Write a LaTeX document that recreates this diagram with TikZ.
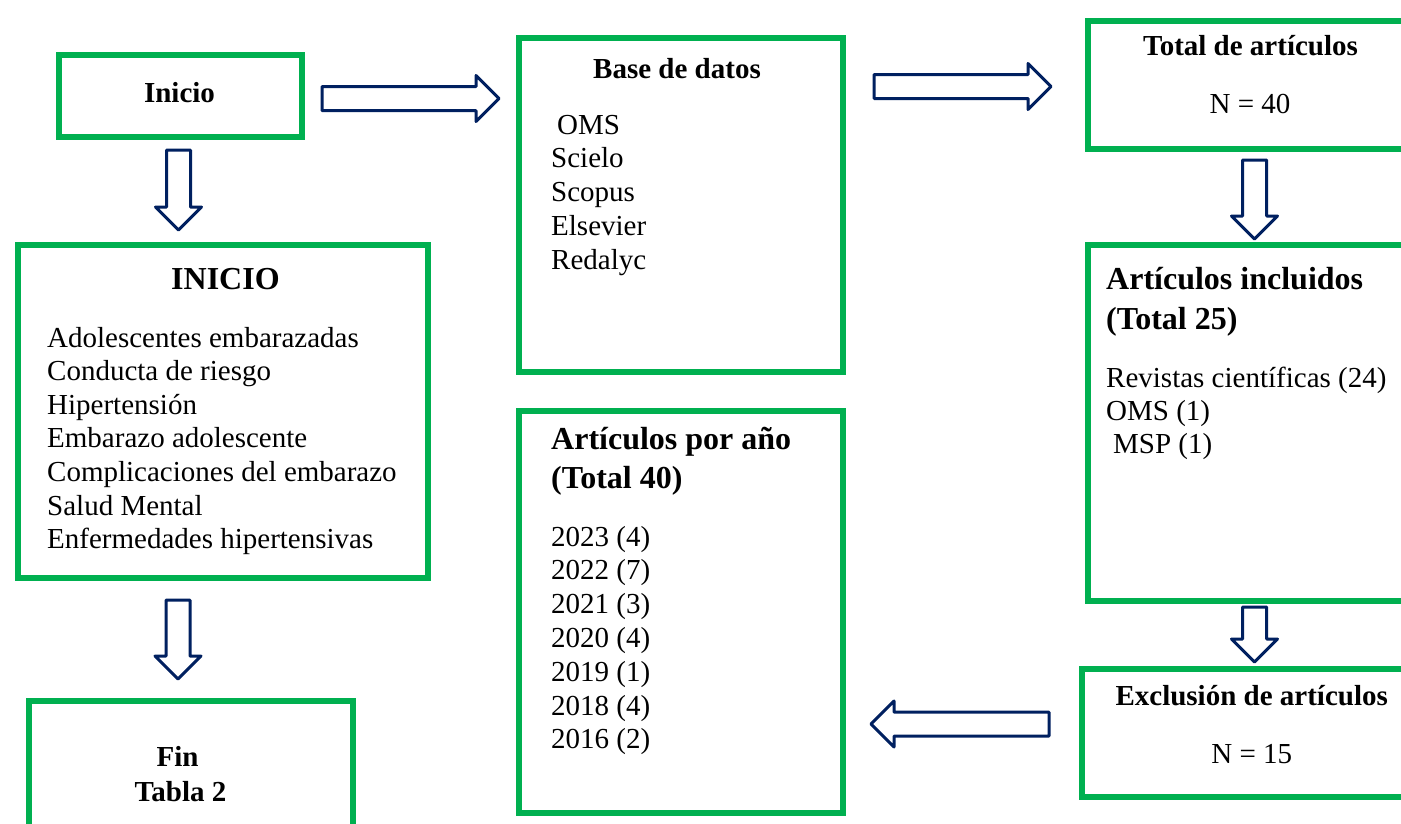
\documentclass[tikz,border=0pt]{standalone}
\usepackage{fontspec}
\setmainfont{Liberation Serif}
\usetikzlibrary{shapes.arrows}
\definecolor{boxgreen}{HTML}{00B050}
\definecolor{navyarrow}{HTML}{002060}
\newcommand\bodyfont{\fontsize{29}{34}\selectfont}
\newcommand\headfont{\fontsize{29}{34}\selectfont\bfseries}
\newcommand\bigheadfont{\fontsize{32}{40}\selectfont\bfseries}
\begin{document}
\begin{tikzpicture}[x=1pt,y=-1pt,
  greenbox/.style={draw=boxgreen, line width=6pt, inner sep=0pt, anchor=north west},
  blockarrow/.style={single arrow, draw=navyarrow, line width=3pt, line join=round,
    minimum width=43pt, single arrow head extend=11pt, inner xsep=0pt, inner ysep=10.5pt,
    anchor=tail},
  bodytxt/.style={inner sep=0pt, anchor=base west, font=\bodyfont},
  headtxt/.style={inner sep=0pt, anchor=base, font=\headfont},
  bighead/.style={inner sep=0pt, anchor=base west, font=\bigheadfont}]
\useasboundingbox (0,0) rectangle (1401,823);
\fill[white] (0,0) rectangle (1401,823);
\clip (0,0) rectangle (1401,823);

% boxes
\node[greenbox, minimum width=243pt, minimum height=82pt]  (inicio)  at (56,52) {};
\node[greenbox, minimum width=410pt, minimum height=333pt] (temas)   at (15,242) {};
\node[greenbox, minimum width=324pt, minimum height=142pt] (fin)     at (26,698) {};
\node[greenbox, minimum width=324pt, minimum height=334pt] (base)    at (516,35) {};
\node[greenbox, minimum width=324pt, minimum height=402pt] (anio)    at (516,408) {};
\node[greenbox, minimum width=325pt, minimum height=128pt] (total)   at (1085,18) {};
\node[greenbox, minimum width=325pt, minimum height=356pt] (incl)    at (1085,242) {};
\node[greenbox, minimum width=331pt, minimum height=128pt] (excl)    at (1079,666) {};

% block arrows
\node[blockarrow, minimum height=80pt, rotate=-90] (a1) at (178.5,148.5) {};
\node[blockarrow, minimum height=79pt, rotate=-90] (a2) at (178,598.5) {};
\node[blockarrow, minimum height=79pt, rotate=-90] (a3) at (1254.5,158.5) {};
\node[blockarrow, minimum height=55pt, rotate=-90] (a4) at (1254.5,605.5) {};
\node[blockarrow, minimum height=177pt] (a5) at (320.5,98.5) {};
\node[blockarrow, minimum height=177pt] (a6) at (872.5,86.5) {};
\node[blockarrow, minimum height=178pt, rotate=180] (a7) at (1050.5,724) {};

% texts
\node[headtxt] (tinicio) at (179.5,102) {Inicio};
\node[bighead] (ttemas) at (171,289) {INICIO};
\foreach \t [count=\i from 0] in {Adolescentes embarazadas, Conducta de riesgo, Hipertensión,
  Embarazo adolescente, Complicaciones del embarazo, Salud Mental, Enfermedades hipertensivas}
  \node[bodytxt] (tema\i) at (47,347+33.6*\i) {\t};
\node[headtxt] (tfin) at (177.5,766) {Fin};
\node[headtxt] (ttabla) at (180.5,801) {Tabla 2};

\node[headtxt] (tbase) at (677,78) {Base de datos};
\node[bodytxt] (db0) at (557,134) {OMS};
\foreach \t [count=\i from 1] in {Scielo, Scopus, Elsevier, Redalyc}
  \node[bodytxt] (db\i) at (551,134+33.75*\i) {\t};

\node[bighead] (tanio1) at (551,449) {Artículos por año};
\node[bighead] (tanio2) at (551,488) {(Total 40)};
\foreach \t [count=\i from 0] in {2023 (4), 2022 (7), 2021 (3), 2020 (4), 2019 (1), 2018 (4), 2016 (2)}
  \node[bodytxt] (yr\i) at (551,546+33.8*\i) {\t};

\node[headtxt] (ttotal) at (1250.5,55) {Total de artículos};
\node[inner sep=0pt, anchor=base, font=\bodyfont] (ntotal) at (1250,113) {N = 40};

\node[bighead] (tincl1) at (1106,289) {Artículos incluidos};
\node[bighead] (tincl2) at (1106,329) {(Total 25)};
\node[bodytxt] (inc0) at (1106,387) {Revistas científicas (24)};
\node[bodytxt] (inc1) at (1106,420) {OMS (1)};
\node[bodytxt] (inc2) at (1113,453) {MSP (1)};

\node[headtxt] (texcl) at (1251.7,705) {Exclusión de artículos};
\node[inner sep=0pt, anchor=base, font=\bodyfont] (nexcl) at (1251.7,763) {N = 15};
\end{tikzpicture}
\end{document}
